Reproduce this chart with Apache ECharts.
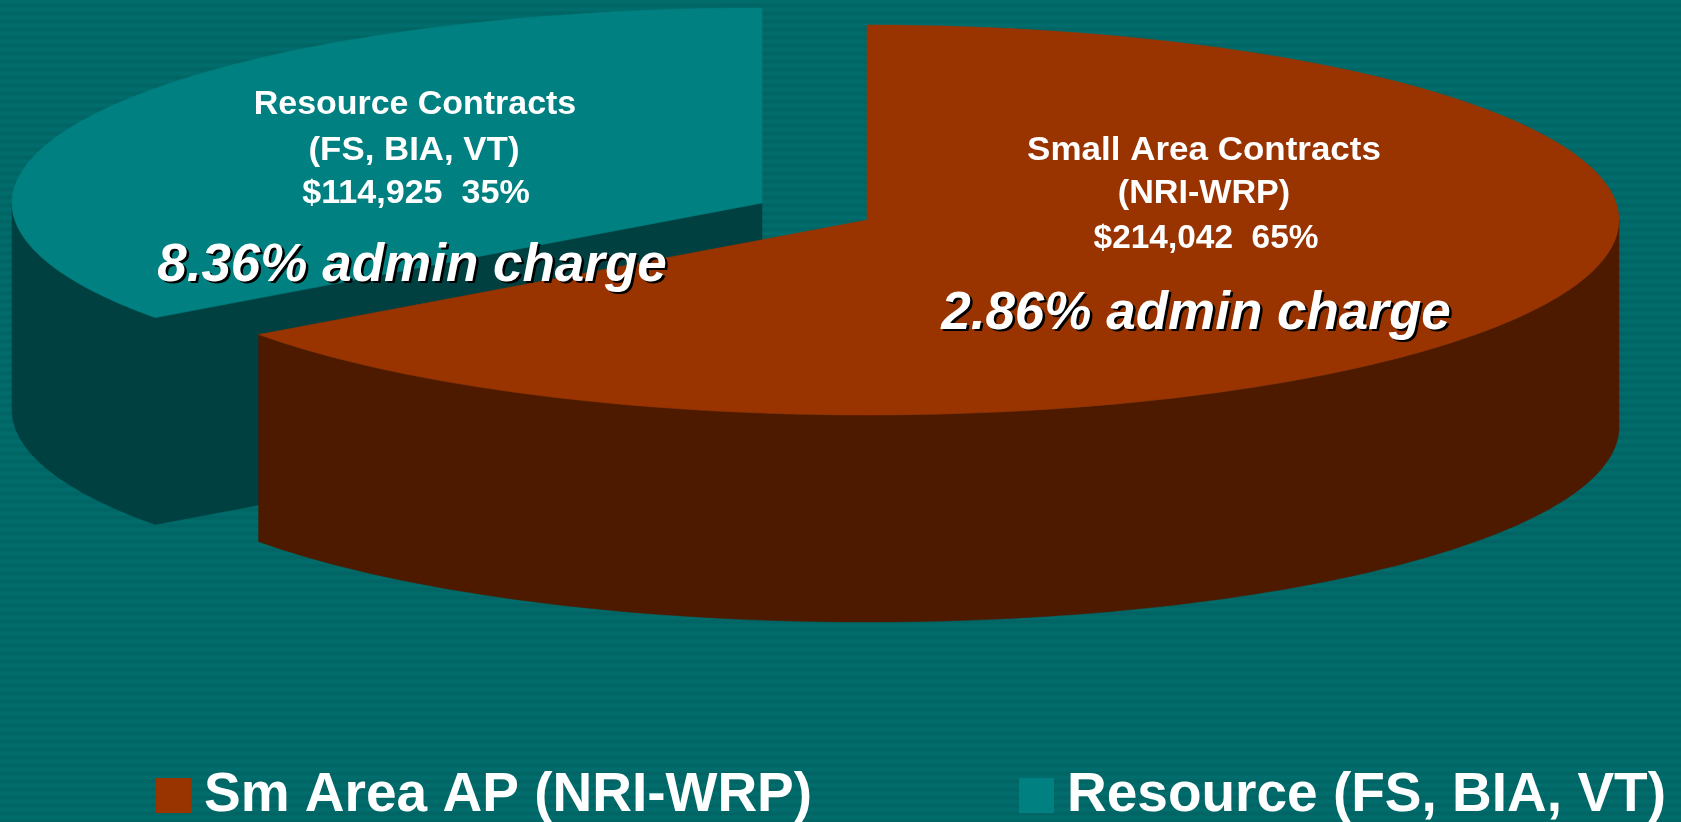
<!DOCTYPE html>
<html>
<head>
<meta charset="utf-8">
<style>html,body{margin:0;padding:0;background:#006969;overflow:hidden}#c{width:1681px;height:822px}</style>
<script src="https://cdn.jsdelivr.net/npm/echarts@6/dist/echarts.min.js"></script>
</head>
<body>
<div id="c"></div>
<script>
// ---- data ----
var sliceNames = ['Resource (FS, BIA, VT)', 'Sm Area AP (NRI-WRP)'];
var sliceValues = [114925, 214042];
var slicePercents = [35, 65];
var labelTitles = ['Resource Contracts', 'Small Area Contracts'];
var labelSubtitles = ['(FS, BIA, VT)', '(NRI-WRP)'];
var adminCharges = ['8.36% admin charge', '2.86% admin charge'];

// ---- styling / layout ----
var topColors = ['#008080', '#993300'];
var wallColors = ['#004040', '#4d1a00'];
var centers = [[762, 203], [867, 220]];
var radiiX = [750, 752];
var RY = 195, DEPTH = 207;
var cut = slicePercents[1] / (slicePercents[0] + slicePercents[1]) * 360;
// clockwise from 12 o'clock: the large slice first, then the small one
var sweep = [[cut, 360], [0, cut]];

function pt(idx, deg, dy) {
  var c = centers[idx], t = deg * Math.PI / 180;
  return [c[0] + radiiX[idx] * Math.sin(t), c[1] - RY * Math.cos(t) + (dy || 0)];
}
function arc(idx, a, b, dy) {
  var out = [], n = Math.max(2, Math.ceil(Math.abs(b - a)));
  for (var i = 0; i <= n; i++) out.push(pt(idx, a + (b - a) * i / n, dy));
  return out;
}
function poly(points, fill) {
  return { type: 'polygon', shape: { points: points }, style: { fill: fill, stroke: fill, lineWidth: 0.5 }, silent: true };
}
function renderSlice(idx) {
  return function () {
    var c = centers[idx], a = sweep[idx][0], b = sweep[idx][1], kids = [];
    // outer visible wall: the part of the rim that faces the viewer
    var wa = Math.max(a, 90), wb = Math.min(b, 270);
    if (wb > wa) kids.push(poly(arc(idx, wa, wb).concat(arc(idx, wb, wa, DEPTH)), wallColors[idx]));
    // cut face for the rear slice
    if (idx === 0) {
      var p = pt(idx, a);
      kids.push(poly([c, p, [p[0], p[1] + DEPTH], [c[0], c[1] + DEPTH]], wallColors[idx]));
    }
    kids.push(poly([c].concat(arc(idx, a, b)), topColors[idx]));
    return { type: 'group', children: kids };
  };
}

// striped backdrop
var tile = document.createElement('canvas');
tile.width = 4; tile.height = 8;
var g = tile.getContext('2d');
var rows = ['#006d6c', '#006d6c', '#006d6c', '#006968', '#006564', '#006564', '#006564', '#006968'];
rows.forEach(function (col, i) { g.fillStyle = col; g.fillRect(0, i, 4, 1); });

var FONT = '"Liberation Sans", Arial, sans-serif';
function money(v) { return '$' + String(v).replace(/\B(?=(\d{3})+$)/g, ','); }
function txt(s, x, y, size, italic, sx) {
  var style = {
    text: s, fill: '#ffffff', align: 'center', verticalAlign: 'middle',
    font: (italic ? 'italic ' : '') + 'bold ' + size + 'px ' + FONT
  };
  if (italic) {
    style.textShadowColor = '#000000'; style.textShadowOffsetX = 2.5; style.textShadowOffsetY = 2.5; style.textShadowBlur = 0.5;
  }
  return { type: 'text', x: x, y: y, scaleX: sx || 1, z: 100, silent: true, style: style };
}
function legendAt(name, left) {
  return { data: [{ name: name, icon: 'rect' }], left: left, top: 768, padding: 0, itemWidth: 35, itemHeight: 35, selectedMode: false,
    textStyle: { color: '#fff', fontFamily: FONT, fontWeight: 'bold', fontSize: 55, padding: [0, 0, 0, 8] } };
}

var option = {
  animation: false,
  backgroundColor: { image: tile, repeat: 'repeat' },
  tooltip: { show: false },
  legend: [legendAt(sliceNames[1], 156), legendAt(sliceNames[0], 1019)],
  series: [
    { type: 'custom', name: sliceNames[0], coordinateSystem: 'none', silent: true, z: 2,
      itemStyle: { color: topColors[0] }, data: [sliceValues[0]], renderItem: renderSlice(0) },
    { type: 'custom', name: sliceNames[1], coordinateSystem: 'none', silent: true, z: 3,
      itemStyle: { color: topColors[1] }, data: [sliceValues[1]], renderItem: renderSlice(1) }
  ],
  graphic: { elements: [
    txt(labelTitles[0], 415, 105, 33, false, 1.028),
    txt(labelSubtitles[0], 414, 151, 33, false, 1.056),
    txt(money(sliceValues[0]) + '  ' + slicePercents[0] + '%', 416, 194, 33, false, 1.033),
    txt(adminCharges[0], 412, 266, 53, true),
    txt(labelTitles[1], 1204, 151, 33, false, 1.06),
    txt(labelSubtitles[1], 1204, 194, 33, false, 1.034),
    txt(money(sliceValues[1]) + '  ' + slicePercents[1] + '%', 1206, 239, 33, false, 1.013),
    txt(adminCharges[1], 1196, 314, 53, true)
  ] }
};
var chart = echarts.init(document.getElementById('c'), null, { renderer: 'canvas', width: 1681, height: 822 });
chart.setOption(option);
</script>
</body>
</html>
